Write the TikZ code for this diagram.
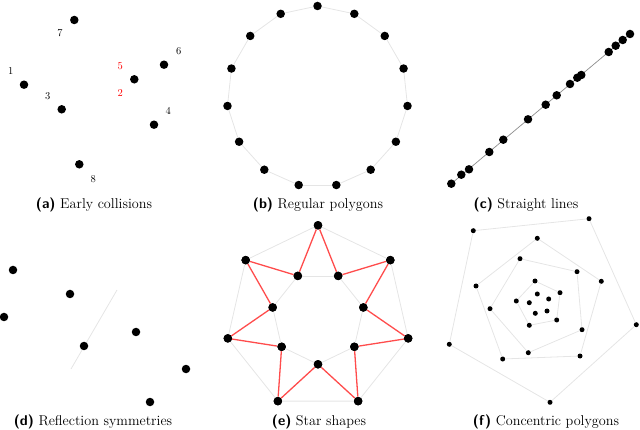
\documentclass[tikz,border=0pt]{standalone}
\begin{document}
\begin{tikzpicture}[x=1pt,y=-1pt,
  dot/.style={circle,fill=black,inner sep=0pt,minimum size=8.5pt},
  sdot/.style={circle,fill=black,inner sep=0pt,minimum size=5pt},
  lbl/.style={font=\fontsize{10.5}{12}\selectfont},
  captxt/.style={font=\fontsize{14.2}{16}\selectfont},
  gl/.style={draw=black!10,line width=0.8pt},
  rl/.style={draw=red!70,line width=1.3pt}]
\useasboundingbox (0,0) rectangle (640,430);
% (a)
\node[dot] (a7) at (74.3,20) {};
\node[dot] (a1) at (24,84.7) {};
\node[dot] (a3) at (61.7,109.3) {};
\node[dot] (a25) at (134.3,79.3) {};
\node[dot] (a6) at (164,64.7) {};
\node[dot] (a4) at (154,124.7) {};
\node[dot] (a8) at (79.3,164.3) {};
\node[lbl] (l7) at (60,33.3) {7};
\node[lbl] (l1) at (10.7,71.3) {1};
\node[lbl] (l3) at (47.7,96) {3};
\node[lbl,text=red] (l5) at (120.3,66) {5};
\node[lbl,text=red] (l2) at (120.3,93.3) {2};
\node[lbl] (l6) at (178.7,51) {6};
\node[lbl] (l4) at (168.3,110.7) {4};
\node[lbl] (l8) at (93.3,178.7) {8};
\node[captxt] (ca) at (94,205) {\textsf{\textbf{(a)}} Early collisions};
% (b)
\foreach \k in {0,...,14}{
  \pgfmathsetmacro\ang{90+24*\k}
  \node[dot] (b\k) at ({317.5+90.5*cos(\ang)},{96.5-90.5*sin(\ang)}) {};
}
\foreach \k [evaluate=\k as \n using {int(mod(\k+1,15))}] in {0,...,14}{
  \path[gl] (b\k) -- (b\n);
}
\node[captxt] (cb) at (318,205) {\textsf{\textbf{(b)}} Regular polygons};
% (c)
\coordinate (c0) at (451.3,183.7);
\coordinate (c14) at (630,34);
\path[draw=black!45,line width=0.7pt] (c0) -- (c14);
\foreach \x/\y [count=\i] in {451.3/183.7,461.3/174.7,469/169.3,489.3/152,503.3/139.7,528/119.3,545.7/104.7,556.7/95.3,570/84,577.3/77.7,581.3/75,608.7/52,615.7/45.7,622.7/40,630/34}{
  \node[dot] (cp\i) at (\x,\y) {};
}
\node[captxt] (cc) at (526,205) {\textsf{\textbf{(c)}} Straight lines};
% (d)
\coordinate (d1) at (117,290);
\coordinate (d2) at (71,369);
\path[gl] (d1) -- (d2);
\foreach \x/\y [count=\i] in {13/270,70/294,4/317,136/332,84/346,186/369,150/402}{
  \node[dot] (dp\i) at (\x,\y) {};
}
\node[captxt] (cd) at (93,422) {\textsf{\textbf{(d)}} Reflection symmetries};
% (e)
\foreach \k in {0,...,6}{
  \pgfmathsetmacro\ango{90+360/7*\k}
  \pgfmathsetmacro\angi{90+180/7+360/7*\k}
  \node[dot] (eo\k) at ({318+92.5*cos(\ango)},{317.8-92.5*sin(\ango)}) {};
  \node[dot] (ei\k) at ({318+46.5*cos(\angi)},{317.8-46.5*sin(\angi)}) {};
}
\foreach \k [evaluate=\k as \n using {int(mod(\k+1,7))}] in {0,...,6}{
  \path[gl] (eo\k) -- (eo\n);
  \path[gl] (ei\k) -- (ei\n);
}
\foreach \k [evaluate=\k as \p using {int(mod(\k+6,7))}] in {0,...,6}{
  \path[rl] (ei\p) -- (eo\k) -- (ei\k);
}
\foreach \k in {0,...,6}{
  \node[dot] at (eo\k) {};
  \node[dot] at (ei\k) {};
}
\node[captxt] (ce) at (319,422) {\textsf{\textbf{(e)}} Star shapes};
% (f)
\foreach \r/\pts in {1/{589/218.7,636.3/324.7,550/402.3,449.3/344.3,473.3/230.7},
                     2/{537.3/238.3,601.3/281.3,580/356,502.7/359,476/286},
                     3/{520/258.7,577/271.7,582/329.7,528.3/352.7,490/308.7},
                     4/{535/281,560/292.7,556.7/320,529.3/325.3,516.3/301},
                     5/{537.3/294,548.7/299,547/311,535.3/313.3,529.3/302.7}}{
  \foreach \x/\y [count=\i] in \pts { \node[sdot] (f\r-\i) at (\x,\y) {}; }
}
\foreach \r in {1,...,4}{
  \path[gl] (f\r-1) -- (f\r-2) -- (f\r-3) -- (f\r-4) -- (f\r-5) -- (f\r-1);
}
\node[captxt] (cf) at (546,422) {\textsf{\textbf{(f)}} Concentric polygons};
\end{tikzpicture}
\end{document}
